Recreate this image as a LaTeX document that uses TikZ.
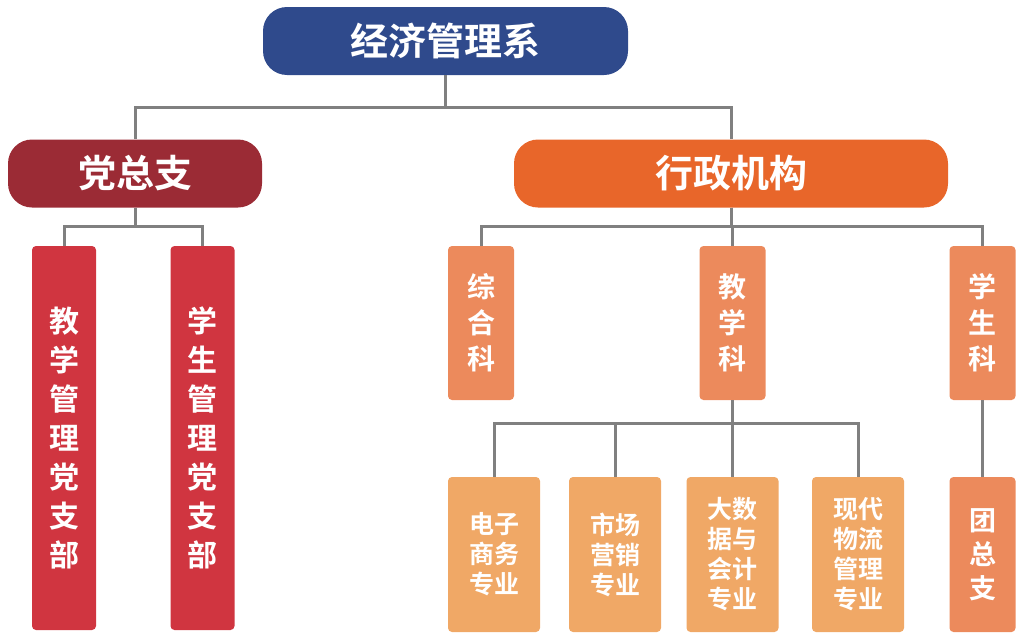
\documentclass[tikz,border=0pt]{standalone}
\usepackage{fontspec}
\newfontfamily\cjkbold{Noto Sans CJK SC Bold}
\usepackage{xcolor}
\usepackage{tikz}
\usetikzlibrary{positioning}
\definecolor{deptblue}{RGB}{47,74,140}
\definecolor{partyred}{RGB}{155,43,53}
\definecolor{adminorange}{RGB}{232,102,42}
\definecolor{cellred}{RGB}{208,53,64}
\definecolor{sectionorange}{RGB}{236,138,92}
\definecolor{majororange}{RGB}{240,168,102}
\definecolor{linegray}{RGB}{128,128,128}
\tikzset{link/.style = {draw=linegray, line width=3pt}}

\begin{document}
\begin{tikzpicture}[x=1pt,y=-1pt,
    head node/.style={rectangle,rounded corners=24pt,text=white,inner sep=0pt,minimum height=68pt,
        font=\cjkbold\fontsize{38}{44}\selectfont},
    cell node/.style={rectangle,rounded corners=4pt,fill=cellred,text=white,inner sep=0pt,
        minimum width=64pt,minimum height=384pt,align=center,font=\cjkbold\fontsize{30}{39}\selectfont},
    section node/.style={rectangle,rounded corners=4pt,fill=sectionorange,text=white,inner sep=0pt,
        minimum width=66pt,minimum height=154pt,align=center,font=\cjkbold\fontsize{28}{36}\selectfont},
    major node/.style={rectangle,rounded corners=4pt,fill=majororange,text=white,inner sep=0pt,
        minimum width=92pt,minimum height=155pt,align=center,font=\cjkbold\fontsize{25}{30}\selectfont}]
            \useasboundingbox (0,0) rectangle (1024,637);

            \node[head node,fill=deptblue,minimum width=365pt] (dept) at (445.5,41) {经济管理系};
            \node[head node,fill=partyred,minimum width=254pt] (party) at (135,173.5) {党总支};
            \node[head node,fill=adminorange,minimum width=434pt] (admin) at (731,173.5) {行政机构};

            \node[cell node] (teachcell) at (64,438) {教\\学\\管\\理\\党\\支\\部};
            \node[cell node] (stucell) at (202.5,438) {学\\生\\管\\理\\党\\支\\部};

            \node[section node] (general) at (481,323) {综\\合\\科};
            \node[section node] (teaching) at (732.5,323) {教\\学\\科};
            \node[section node] (student) at (982.5,323) {学\\生\\科};

            \node[major node] (ecom) at (494,554.5) {电子\\商务\\专业};
            \node[major node] (market) at (615,554.5) {市场\\营销\\专业};
            \node[major node] (bigdata) at (732.5,554.5) {大数\\据与\\会计\\专业};
            \node[major node] (logistics) at (858,554.5) {现代\\物流\\管理\\专业};
            \node[section node,minimum height=155pt,font=\cjkbold\fontsize{27}{34}\selectfont]
                (league) at (982.5,554.5) {团\\总\\支};

            \foreach \to in {party,admin}
                \draw[link] (dept.south) -- ++(0,32) -| (\to.north);
            \foreach \to in {teachcell,stucell}
                \draw[link] (party.south) -- ++(0,19) -| (\to.north);
            \foreach \to in {general,teaching,student}
                \draw[link] (admin.south) -- ++(0,19) -| (\to.north);
            \foreach \to in {ecom,market,bigdata,logistics}
                \draw[link] (teaching.south) -- ++(0,23) -| (\to.north);
            \draw[link] (student) -- (league);
        \end{tikzpicture}
\end{document}
